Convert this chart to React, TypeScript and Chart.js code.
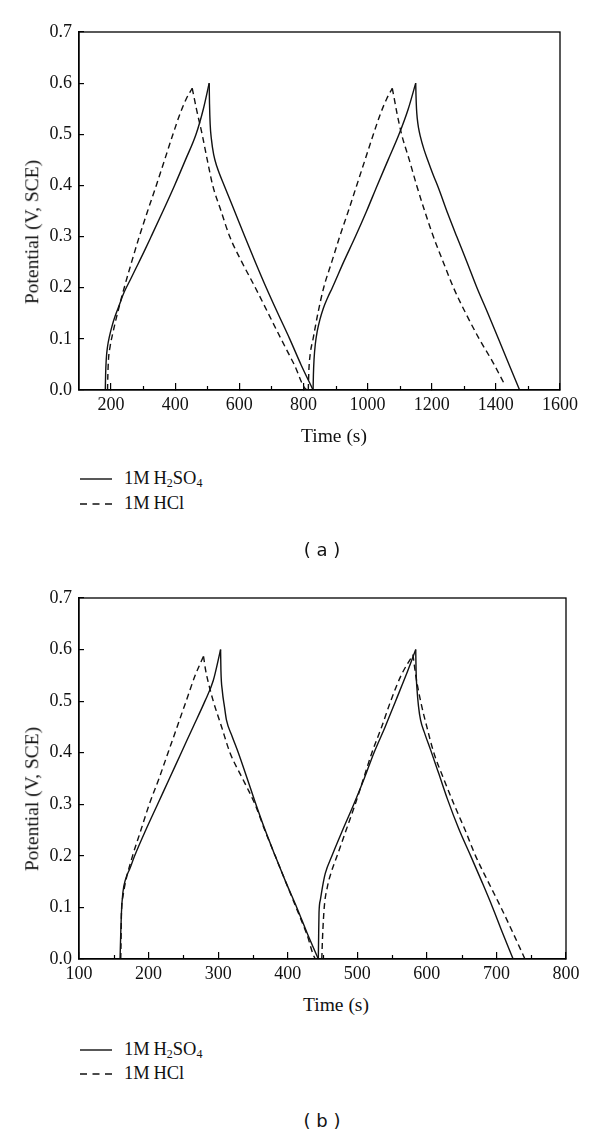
import React, { useEffect, useRef } from 'react';
import { Chart, registerables } from 'chart.js';

Chart.register(...registerables);

// ---------- Panel (a) data ----------
const A_H2SO4_T = [182, 183, 185, 189, 195, 203, 213, 225, 240, 262, 283, 304, 325, 362, 398, 432, 465, 488, 506,
  507, 509, 513, 520, 530, 554, 585, 617, 650, 684, 720, 757, 792, 830,
  831, 833, 837, 843, 851, 862, 875, 890, 925, 962, 997, 1030, 1064, 1098, 1127, 1150,
  1151, 1152.5, 1155, 1159, 1164, 1176, 1189, 1205, 1221, 1250, 1278, 1310, 1341, 1375, 1408, 1441, 1474];
const A_H2SO4_V = [0, 0.03, 0.06, 0.085, 0.105, 0.125, 0.145, 0.165, 0.19, 0.218, 0.245, 0.272, 0.30, 0.35, 0.40, 0.45, 0.50, 0.55, 0.60,
  0.56, 0.52, 0.49, 0.46, 0.437, 0.398, 0.35, 0.30, 0.25, 0.20, 0.15, 0.10, 0.05, 0,
  0.03, 0.06, 0.09, 0.115, 0.137, 0.16, 0.18, 0.20, 0.25, 0.30, 0.35, 0.40, 0.45, 0.50, 0.55, 0.60,
  0.575, 0.55, 0.53, 0.512, 0.497, 0.47, 0.447, 0.42, 0.395, 0.345, 0.30, 0.25, 0.20, 0.15, 0.10, 0.05, 0];

const A_HCL_T = [189, 190, 192, 197, 205, 220, 241, 264, 288, 314, 341, 367, 393, 415, 435, 453,
  458, 466, 484, 500, 517, 543, 570, 608, 650, 690, 730, 771, 812,
  815, 817, 821, 830, 845, 863, 888, 913, 940, 966, 992, 1018, 1040, 1060, 1077,
  1083, 1092, 1106, 1130, 1153, 1178, 1205, 1236, 1268, 1306, 1348, 1390, 1428];
const A_HCL_V = [0, 0.03, 0.06, 0.085, 0.11, 0.15, 0.20, 0.25, 0.30, 0.35, 0.40, 0.45, 0.50, 0.54, 0.57, 0.59,
  0.575, 0.55, 0.50, 0.45, 0.40, 0.35, 0.30, 0.25, 0.20, 0.15, 0.10, 0.05, 0,
  0, 0.04, 0.07, 0.10, 0.15, 0.20, 0.25, 0.30, 0.35, 0.40, 0.45, 0.50, 0.54, 0.57, 0.59,
  0.57, 0.54, 0.50, 0.45, 0.40, 0.35, 0.30, 0.25, 0.20, 0.15, 0.10, 0.055, 0.01];

// ---------- Panel (b) data ----------
const B_H2SO4_T = [159, 160, 161, 163, 167, 173, 180, 196, 213, 230, 247, 264, 281, 293, 303.5,
  304, 306, 309, 312, 320, 329, 341, 353, 367, 382, 397, 413, 428, 444,
  444.5, 445, 447, 450, 454, 463.6, 479, 495, 510, 524, 540, 555, 570, 584,
  584.5, 586, 588, 591, 597, 605.5, 617, 629.6, 646, 663, 679, 694.5, 709, 724];
const B_H2SO4_V = [0, 0.05, 0.09, 0.128, 0.155, 0.175, 0.20, 0.25, 0.30, 0.35, 0.40, 0.45, 0.50, 0.54, 0.60,
  0.56, 0.52, 0.49, 0.463, 0.432, 0.40, 0.353, 0.305, 0.252, 0.20, 0.15, 0.10, 0.05, 0,
  0.05, 0.09, 0.115, 0.14, 0.166, 0.20, 0.25, 0.30, 0.35, 0.40, 0.45, 0.50, 0.55, 0.60,
  0.56, 0.52, 0.49, 0.463, 0.437, 0.405, 0.36, 0.31, 0.252, 0.20, 0.15, 0.10, 0.05, 0];

const B_HCL_T = [160, 160.5, 161, 163, 167, 177, 189, 201, 215, 228, 241, 254, 267, 279,
  282, 287, 293, 305, 317, 335, 353, 367, 382, 397, 412, 427, 441,
  449, 450, 452.5, 457, 463, 471, 484, 497, 509, 521, 535, 548, 563, 580,
  582, 584, 591, 600, 610, 624, 639, 655, 670, 688, 706.5, 724, 741];
const B_HCL_V = [0, 0.04, 0.089, 0.12, 0.15, 0.20, 0.25, 0.30, 0.35, 0.40, 0.45, 0.50, 0.55, 0.587,
  0.56, 0.53, 0.50, 0.45, 0.40, 0.35, 0.30, 0.25, 0.20, 0.15, 0.10, 0.05, 0,
  0, 0.04, 0.10, 0.14, 0.17, 0.20, 0.25, 0.30, 0.35, 0.40, 0.45, 0.50, 0.55, 0.59,
  0.57, 0.55, 0.50, 0.45, 0.40, 0.35, 0.30, 0.25, 0.20, 0.15, 0.10, 0.05, 0];

// ---------- Ticks ----------
const A_X_MAJOR = [200, 400, 600, 800, 1000, 1200, 1400, 1600];
const A_X_MINOR = [300, 500, 700, 900, 1100, 1300, 1500];
const B_X_MAJOR = [100, 200, 300, 400, 500, 600, 700, 800];
const B_X_MINOR = [150, 250, 350, 450, 550, 650, 750];
const Y_TICKS = [0, 0.1, 0.2, 0.3, 0.4, 0.5, 0.6, 0.7];

const SERIES_LABELS = ['1M H2SO4', '1M HCl'];

const SERIF = '"Liberation Serif", "Times New Roman", Times, serif';

type Pt = { x: number; y: number };

// split a series at its turning points so each branch is smoothed on its own
function branches(t: number[], v: number[]): Pt[][] {
  const out: Pt[][] = [];
  let cur: Pt[] = [{ x: t[0], y: v[0] }];
  let dir = 0;
  for (let i = 1; i < t.length; i++) {
    const d = Math.sign(v[i] - v[i - 1]);
    if (d !== 0 && dir !== 0 && d !== dir) {
      out.push(cur);
      cur = [{ x: t[i - 1], y: v[i - 1] }];
    }
    if (d !== 0) dir = d;
    cur.push({ x: t[i], y: v[i] });
  }
  out.push(cur);
  return out;
}

const framePlugin = {
  id: 'frame',
  afterDraw(chart: any, _args: any, opts: any) {
    const { ctx, chartArea: a } = chart;
    ctx.save();
    ctx.strokeStyle = '#000';
    ctx.lineWidth = 1.3;
    ctx.strokeRect(a.left, a.top, a.right - a.left, a.bottom - a.top);
    const xs = chart.scales.x;
    ctx.lineWidth = 1.2;
    (opts.minor || []).forEach((v: number) => {
      const px = Math.round(xs.getPixelForValue(v)) + 0.5;
      ctx.beginPath();
      ctx.moveTo(px, a.bottom);
      ctx.lineTo(px, a.bottom - 4);
      ctx.stroke();
    });
    ctx.restore();
  },
};

type PanelProps = {
  top: number;
  height: number;
  padTop: number;
  padRight: number;
  plotBottom: number;
  xMin: number;
  xMax: number;
  xMajor: number[];
  xMinor: number[];
  solidT: number[];
  solidV: number[];
  dashedT: number[];
  dashedV: number[];
};

function Panel(p: PanelProps) {
  const ref = useRef<HTMLCanvasElement>(null);
  useEffect(() => {
    if (!ref.current) return;
    const mk = (label: string, data: Pt[], dash: number[]) => ({
      label,
      data,
      showLine: true,
      borderColor: '#111',
      borderWidth: 1.4,
      borderDash: dash,
      pointRadius: 0,
      cubicInterpolationMode: 'monotone' as const,
    });
    const datasets = [
      ...branches(p.solidT, p.solidV).map((d) => mk(SERIES_LABELS[0], d, [])),
      ...branches(p.dashedT, p.dashedV).map((d) => mk(SERIES_LABELS[1], d, [6, 4])),
    ];
    const chart = new Chart(ref.current, {
      type: 'scatter',
      data: { datasets },
      options: {
        animation: false,
        responsive: false,
        devicePixelRatio: 1,
        layout: { padding: { top: p.padTop, right: p.padRight, left: 0, bottom: 0 } },
        plugins: {
          legend: { display: false },
          tooltip: { enabled: false },
          frame: { minor: p.xMinor },
        } as any,
        scales: {
          x: {
            type: 'linear',
            min: p.xMin,
            max: p.xMax,
            afterBuildTicks: (s: any) => {
              s.ticks = p.xMajor.map((v) => ({ value: v }));
            },
            afterFit: (s: any) => {
              s.height = p.height - p.plotBottom;
            },
            grid: {
              drawOnChartArea: false,
              drawTicks: true,
              tickLength: -7,
              color: '#000',
              tickColor: '#000',
              lineWidth: 1.2,
            },
            border: { display: true, color: '#000', width: 1.3 },
            ticks: {
              color: '#111',
              padding: 11,
              maxRotation: 0,
              autoSkip: false,
              font: { family: SERIF, size: 18 },
              callback: (v: any) => String(v),
            },
          },
          y: {
            type: 'linear',
            min: 0,
            max: 0.7,
            afterBuildTicks: (s: any) => {
              s.ticks = Y_TICKS.map((v) => ({ value: v }));
            },
            afterFit: (s: any) => {
              s.width = 79;
            },
            grid: {
              drawOnChartArea: false,
              drawTicks: true,
              tickLength: -5,
              color: '#000',
              tickColor: '#000',
              lineWidth: 1.2,
            },
            border: { display: true, color: '#000', width: 1.3 },
            ticks: {
              color: '#111',
              padding: 12,
              autoSkip: false,
              font: { family: SERIF, size: 18 },
              callback: (v: any) => Number(v).toFixed(1),
            },
          },
        },
      },
      plugins: [framePlugin],
    });
    return () => chart.destroy();
  }, []);
  return (
    <canvas
      ref={ref}
      width={600}
      height={p.height}
      style={{ position: 'absolute', left: 0, top: p.top, width: 600, height: p.height }}
    />
  );
}

const abs = (left: number, top: number, extra: React.CSSProperties = {}): React.CSSProperties => ({
  position: 'absolute',
  left,
  top,
  whiteSpace: 'nowrap',
  lineHeight: 1,
  ...extra,
});

function Legend({ y1, y2 }: { y1: number; y2: number }) {
  const txt: React.CSSProperties = { fontFamily: SERIF, fontSize: 18.5, color: '#111' };
  const sub: React.CSSProperties = { fontSize: 12, verticalAlign: '-0.3em', lineHeight: 0 };
  return (
    <>
      <svg style={{ position: 'absolute', left: 78, top: y1 - 3, overflow: 'visible' }} width={40} height={30}>
        <line x1={2} y1={3} x2={34} y2={3} stroke="#111" strokeWidth={1.4} />
        <line x1={2} y1={3 + (y2 - y1)} x2={34} y2={3 + (y2 - y1)} stroke="#111" strokeWidth={1.4} strokeDasharray="7 5.5" />
      </svg>
      <div style={abs(124, y1, { ...txt, transform: 'translateY(-55%)' })}>
        1M{'\u2009'}H<span style={sub}>2</span>SO<span style={sub}>4</span>
      </div>
      <div style={abs(124, y2, { ...txt, transform: 'translateY(-55%)' })}>1M{'\u2009'}HCl</div>
    </>
  );
}

export default function App() {
  const title: React.CSSProperties = { fontFamily: SERIF, fontSize: 19.5, color: '#111' };
  const cap: React.CSSProperties = { fontFamily: '"DejaVu Sans", sans-serif', fontSize: 18, color: '#111' };
  return (
    <div style={{ position: 'absolute', left: 0, top: 0, width: 600, height: 1137, background: '#fff', overflow: 'hidden' }}>
      <Panel
        top={0}
        height={430}
        padTop={32}
        padRight={40}
        plotBottom={390}
        xMin={100}
        xMax={1600}
        xMajor={A_X_MAJOR}
        xMinor={A_X_MINOR}
        solidT={A_H2SO4_T}
        solidV={A_H2SO4_V}
        dashedT={A_HCL_T}
        dashedV={A_HCL_V}
      />
      <div style={abs(334, 436, { ...title, transform: 'translate(-50%,-50%)' })}>Time (s)</div>
      <div style={abs(32, 232, { ...title, transform: 'translate(-50%,-50%) rotate(-90deg)' })}>Potential (V, SCE)</div>
      <Legend y1={479} y2={504} />
      <div style={abs(322, 550, { ...cap, transform: 'translate(-50%,-50%)' })}>( a )</div>

      <Panel
        top={560}
        height={430}
        padTop={38}
        padRight={34}
        plotBottom={399}
        xMin={100}
        xMax={800}
        xMajor={B_X_MAJOR}
        xMinor={B_X_MINOR}
        solidT={B_H2SO4_T}
        solidV={B_H2SO4_V}
        dashedT={B_HCL_T}
        dashedV={B_HCL_V}
      />
      <div style={abs(336, 1005, { ...title, transform: 'translate(-50%,-50%)' })}>Time (s)</div>
      <div style={abs(32, 799, { ...title, transform: 'translate(-50%,-50%) rotate(-90deg)' })}>Potential (V, SCE)</div>
      <Legend y1={1050} y2={1074} />
      <div style={abs(322, 1121, { ...cap, transform: 'translate(-50%,-50%)' })}>( b )</div>
    </div>
  );
}
